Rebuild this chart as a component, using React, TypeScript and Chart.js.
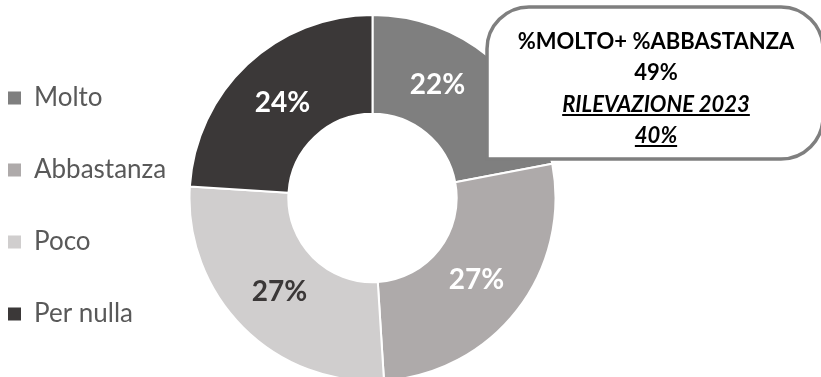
import React, { useEffect, useRef } from 'react';
import { Chart, registerables } from 'chart.js';

Chart.register(...registerables);

// ---- data ----
const categories = ['Molto', 'Abbastanza', 'Poco', 'Per nulla'];
const values = [22, 27, 27, 24];
const calloutLines = ['%MOLTO+ %ABBASTANZA', '49%', 'RILEVAZIONE 2023', '40%'];

// ---- styles ----
const sliceColors = ['#7f7f7f', '#aeaaaa', '#d0cece', '#3b3838'];
const labelColors = ['#ffffff', '#ffffff', '#3b3838', '#ffffff'];
const labelAngleNudgeDeg = [-10, 0, 0, 0];
const calloutItalic = [false, false, true, true];
const calloutBaselines = [48.5, 79.5, 111.5, 142.5];
const FONT = 'Lato, "Open Sans", sans-serif';
const DOUGHNUT_CENTER_X = 372.5;

const centerPlugin = {
  id: 'centerDoughnut',
  afterLayout(chart: any) {
    const ca = chart.chartArea;
    const shift = DOUGHNUT_CENTER_X - (ca.left + ca.right) / 2;
    ca.left += shift;
    ca.right += shift;
  },
};

const sliceLabelsPlugin = {
  id: 'sliceLabels',
  afterDatasetsDraw(chart: any) {
    const ctx = chart.ctx;
    const meta = chart.getDatasetMeta(0);
    const data = chart.data.datasets[0].data as number[];
    ctx.save();
    ctx.font = `bold 28px ${FONT}`;
    ctx.textAlign = 'center';
    ctx.textBaseline = 'alphabetic';
    meta.data.forEach((arc: any, i: number) => {
      const p = arc.getProps(['x', 'y', 'startAngle', 'endAngle', 'innerRadius', 'outerRadius'], true);
      const a = (p.startAngle + p.endAngle) / 2 + (labelAngleNudgeDeg[i] * Math.PI) / 180;
      const r = (p.innerRadius + p.outerRadius) / 2 - 2;
      ctx.fillStyle = labelColors[i];
      ctx.fillText(`${data[i]}%`, p.x + Math.cos(a) * r, p.y + Math.sin(a) * r + 10);
    });
    ctx.restore();
  },
};

const calloutPlugin = {
  id: 'callout',
  afterDraw(chart: any) {
    const ctx = chart.ctx;
    const L = 487, T = 7, R = 823, B = 159, rad = 42;
    ctx.save();
    ctx.beginPath();
    ctx.moveTo(L, B);
    ctx.lineTo(L, T + rad);
    ctx.arcTo(L, T, L + rad, T, rad);
    ctx.lineTo(R - rad, T);
    ctx.arcTo(R, T, R, T + rad, rad);
    ctx.lineTo(R, B - rad);
    ctx.arcTo(R, B, R - rad, B, rad);
    ctx.closePath();
    ctx.fillStyle = '#ffffff';
    ctx.fill();
    ctx.lineWidth = 3.5;
    ctx.strokeStyle = '#7f7f7f';
    ctx.stroke();

    const cx = 656;
    ctx.fillStyle = '#000000';
    ctx.strokeStyle = '#000000';
    ctx.textAlign = 'center';
    ctx.textBaseline = 'alphabetic';
    calloutLines.forEach((line, i) => {
      ctx.font = `${calloutItalic[i] ? 'italic ' : ''}bold 22px ${FONT}`;
      const y = calloutBaselines[i];
      ctx.fillText(line, cx, y);
      if (calloutItalic[i]) {
        const w = ctx.measureText(line).width;
        ctx.lineWidth = 1.8;
        ctx.beginPath();
        ctx.moveTo(cx - w / 2, y + 3.5);
        ctx.lineTo(cx + w / 2, y + 3.5);
        ctx.stroke();
      }
    });
    ctx.restore();
  },
};

export default function App() {
  const canvasRef = useRef<HTMLCanvasElement | null>(null);

  useEffect(() => {
    if (!canvasRef.current) return;
    const chart = new Chart(canvasRef.current, {
      type: 'doughnut',
      data: {
        labels: categories,
        datasets: [
          {
            data: values,
            backgroundColor: sliceColors,
            borderColor: '#ffffff',
            borderWidth: 2,
            clip: false as any,
          } as any,
        ],
      },
      options: {
        responsive: false,
        animation: false,
        radius: 183,
        cutout: '46%',
        layout: { padding: { left: -38, top: 23, right: 0, bottom: 4 } },
        plugins: {
          tooltip: { enabled: false },
          legend: {
            position: 'left',
            align: 'end',
            labels: {
              boxWidth: 13,
              boxHeight: 13,
              padding: 46,
              color: '#595959',
              font: { family: FONT, size: 26, lineHeight: 1 },
              generateLabels: (c: any) =>
                (Chart as any).overrides.doughnut.plugins.legend.labels
                  .generateLabels(c)
                  .map((l: any) => ({ ...l, lineWidth: 0, strokeStyle: 'rgba(0,0,0,0)' })),
            },
          },
        },
      } as any,
      plugins: [centerPlugin, sliceLabelsPlugin, calloutPlugin],
    });
    return () => chart.destroy();
  }, []);

  return (
    <div style={{ position: 'fixed', left: 0, top: 0, width: 821, height: 377, background: '#ffffff' }}>
      <canvas ref={canvasRef} width={821} height={377} style={{ display: 'block' }} />
    </div>
  );
}
